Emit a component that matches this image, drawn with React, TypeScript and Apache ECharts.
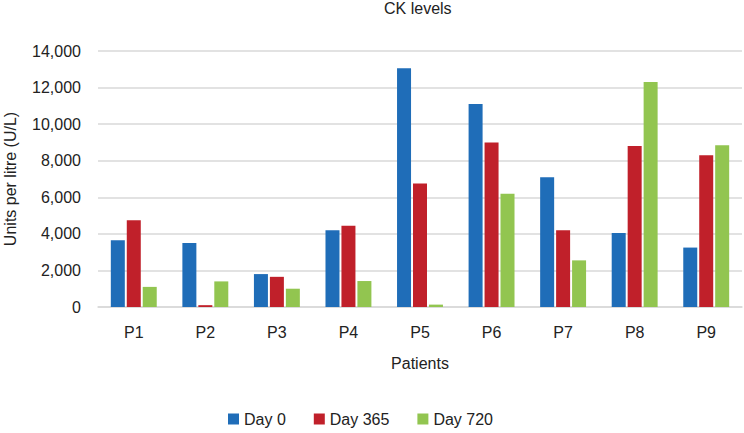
import React, { useEffect, useRef } from "react";
import * as echarts from "echarts";

const categories = ["P1", "P2", "P3", "P4", "P5", "P6", "P7", "P8", "P9"];
const day0 = [3650, 3500, 1800, 4200, 13050, 11100, 7100, 4050, 3250];
const day365 = [4750, 100, 1650, 4450, 6750, 9000, 4200, 8800, 8300];
const day720 = [1100, 1400, 1000, 1420, 130, 6200, 2550, 12300, 8850];
const seriesNames = ["Day 0", "Day 365", "Day 720"];
const colors = ["#1f6db8", "#c0202a", "#92c550"];

export default function App() {
  const ref = useRef<HTMLDivElement>(null);
  useEffect(() => {
    if (!ref.current) return;
    const chart = echarts.init(ref.current, null, { renderer: "svg" });
    const font = "Liberation Sans, Arial, sans-serif";
    const txt = "#222";
    const data = [day0, day365, day720];
    chart.setOption({
      animation: false,
      textStyle: { fontFamily: font },
      title: {
        text: "CK levels",
        left: 384,
        top: 0,
        padding: 0,
        textStyle: { fontSize: 16, fontWeight: "normal", color: txt, fontFamily: font },
      },
      legend: {
        left: 228,
        top: 411,
        padding: 0,
        itemWidth: 11,
        itemHeight: 11,
        itemGap: 28,
        icon: "rect",
        textStyle: { fontSize: 16, color: txt, fontFamily: font },
        data: seriesNames,
      },
      grid: { left: 98, right: 2, top: 51, bottom: 126, containLabel: false, outerBoundsMode: "none" },
      xAxis: {
        type: "category",
        data: categories,
        name: "Patients",
        nameLocation: "middle",
        nameGap: 48,
        nameTextStyle: { fontSize: 16, color: txt, fontFamily: font },
        axisLine: { lineStyle: { color: "#d9d9d9", width: 1.5 } },
        axisTick: { show: false },
        axisLabel: { fontSize: 16, color: txt, margin: 17, fontFamily: font },
      },
      yAxis: {
        type: "value",
        min: 0,
        max: 14000,
        interval: 2000,
        name: "Units per litre (U/L)",
        nameLocation: "middle",
        nameGap: 80,
        nameTextStyle: { fontSize: 16, color: txt, fontFamily: font },
        axisLine: { show: false },
        axisTick: { show: false },
        axisLabel: {
          fontSize: 16,
          color: txt,
          margin: 17,
          fontFamily: font,
          formatter: (v: number) => v.toLocaleString("en-US"),
        },
        splitLine: { lineStyle: { color: "#d9d9d9", width: 1.5 } },
      },
      series: seriesNames.map((n, i) => ({
        name: n,
        type: "bar",
        data: data[i],
        barWidth: 14,
        barGap: "14%",
        itemStyle: { color: colors[i] },
      })),
    });
    return () => chart.dispose();
  }, []);
  return <div ref={ref} style={{ width: 744, height: 433, position: "absolute", left: 0, top: 0 }} />;
}
